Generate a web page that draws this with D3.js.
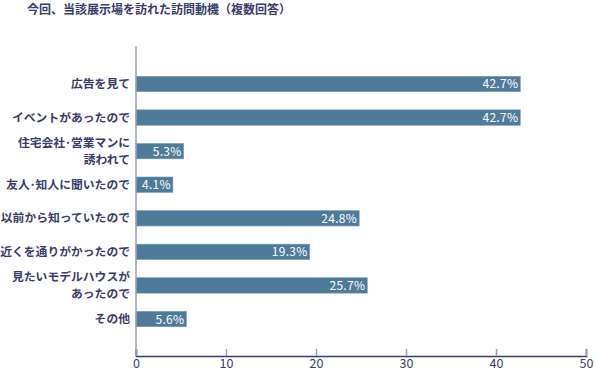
<!DOCTYPE html>
<html><head><meta charset="utf-8">
<script src="https://cdn.jsdelivr.net/npm/d3@7"></script>
<style>body{margin:0;background:#fff;} text{font-family:"Noto Sans CJK JP","Noto Sans",sans-serif;}</style>
</head><body>
<svg id="c" width="595" height="372"></svg>
<script>
const title = "今回、当該展示場を訪れた訪問動機（複数回答）";
const categories = ["広告を見て","イベントがあったので","住宅会社･営業マンに\n誘われて","友人･知人に聞いたので","以前から知っていたので","近くを通りがかったので","見たいモデルハウスが\nあったので","その他"];
const values = [42.7,42.7,5.3,4.1,24.8,19.3,25.7,5.6];
const tickValues = [0,10,20,30,40,50];

const svg = d3.select("#c");
const navy = "#383c6c";
const x = d3.scaleLinear().domain([0,50]).range([136,586]);
const y = d3.scaleBand().domain(categories).range([67.2,335.8]).paddingInner(0.54).paddingOuter(0.27);

svg.append("text").attr("x",27).attr("y",14).attr("font-size",12).attr("font-weight",600).attr("fill",navy).text(title);

// bars
svg.selectAll("rect.bar").data(values).enter().append("rect")
  .attr("x",x(0)).attr("y",(d,i)=>y(categories[i]))
  .attr("width",d=>x(d)-x(0)).attr("height",y.bandwidth())
  .attr("fill","#4f7b9b").attr("stroke","#7f9eb6").attr("stroke-width",0.6);

svg.selectAll("text.val").data(values).enter().append("text")
  .attr("x",d=>x(d)-2).attr("y",(d,i)=>y(categories[i])+y.bandwidth()/2+4.5)
  .attr("text-anchor","end").attr("font-size",12).attr("fill","#fff")
  .attr("font-family","'DejaVu Sans',sans-serif").attr("letter-spacing",0.3)
  .text(d=>d.toFixed(1)+"%");

// category labels
categories.forEach((c,i)=>{
  const lines = c.split("\n");
  const cy = y(c)+y.bandwidth()/2;
  const lh = 16.5;
  lines.forEach((l,j)=>{
    svg.append("text").attr("x",130).attr("y",cy + (j-(lines.length-1)/2)*lh + 4.2)
      .attr("text-anchor","end").attr("font-size",11.8).attr("font-weight",600).attr("fill",navy).text(l);
  });
});

// vertical axis line
svg.append("line").attr("x1",x(0)).attr("x2",x(0)).attr("y1",46).attr("y2",356).attr("stroke","#9a9cb6").attr("stroke-width",1.5);

// x axis
const ax = svg.append("g").attr("transform","translate(0,356)")
  .call(d3.axisBottom(x).tickValues(tickValues).tickSize(-7).tickPadding(4).tickFormat(d3.format("d")));
ax.select(".domain").attr("stroke",navy).attr("stroke-width",1.5);
ax.selectAll(".tick line").attr("stroke","#9a9cb6").attr("stroke-width",1.5);
ax.selectAll(".tick text").attr("font-size",12.5).attr("fill",navy).attr("dy","0.6em")
  .attr("font-family","'DejaVu Sans',sans-serif");
</script>
</body></html>
